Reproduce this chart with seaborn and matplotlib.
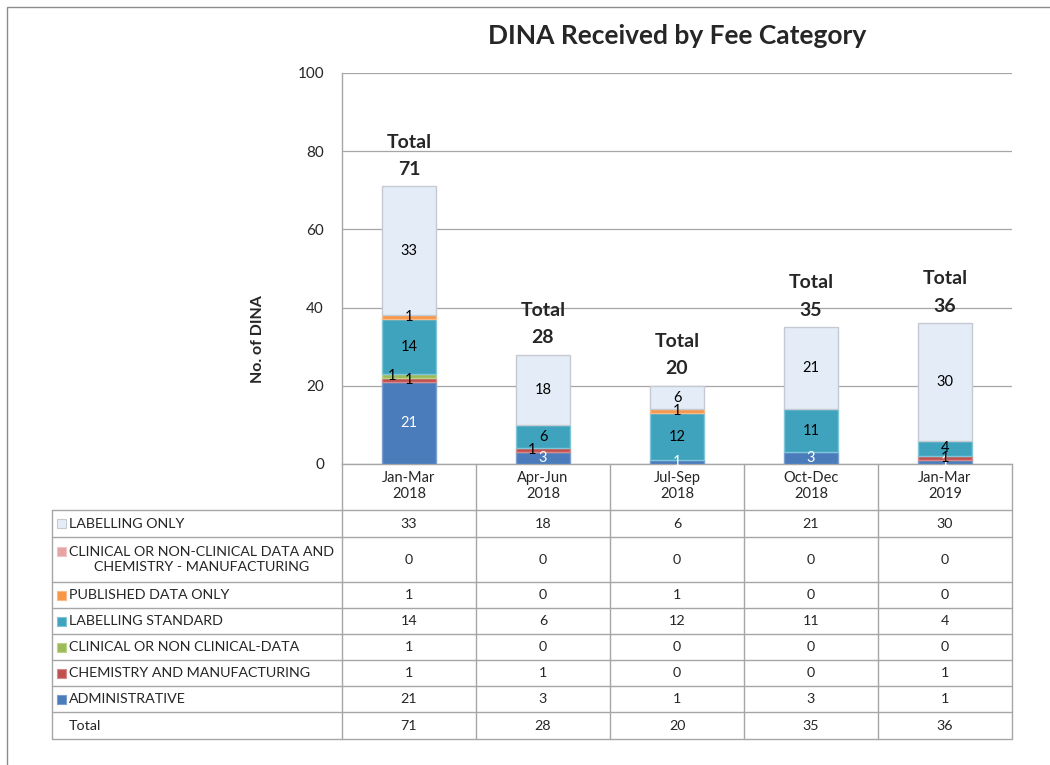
import numpy as np
import pandas as pd
import matplotlib
matplotlib.use("Agg")
import matplotlib.pyplot as plt
import seaborn as sns
from matplotlib.patches import Rectangle
from matplotlib.lines import Line2D

# ---------------- data ----------------
periods = ["Jan-Mar\n2018", "Apr-Jun\n2018", "Jul-Sep\n2018", "Oct-Dec\n2018", "Jan-Mar\n2019"]
administrative = [21, 3, 1, 3, 1]
chemistry_manufacturing = [1, 1, 0, 0, 1]
clinical_data = [1, 0, 0, 0, 0]
labelling_standard = [14, 6, 12, 11, 4]
published_data = [1, 0, 1, 0, 0]
clinical_and_chemistry = [0, 0, 0, 0, 0]
labelling_only = [33, 18, 6, 21, 30]
totals = [71, 28, 20, 35, 36]

series_names = [
    "ADMINISTRATIVE",
    "CHEMISTRY AND MANUFACTURING",
    "CLINICAL OR NON CLINICAL-DATA",
    "LABELLING STANDARD",
    "PUBLISHED DATA ONLY",
    "CLINICAL OR NON-CLINICAL DATA AND\nCHEMISTRY - MANUFACTURING",
    "LABELLING ONLY",
]
series_values = [administrative, chemistry_manufacturing, clinical_data,
                 labelling_standard, published_data, clinical_and_chemistry,
                 labelling_only]
series_colors = ["#4A7BBA", "#C0504D", "#9BBB59", "#3FA3BE", "#F79646", "#E6A3A2", "#E4ECF7"]
series_edges = ["#7A9FD0", "#D98A88", "#BCD48A", "#7FC6DA", "#F9BA8A", "#F0C6C5", "#C4C9D2"]
label_colors = ["white", "black", "black", "black", "black", "black", "black"]

# ---------------- style ----------------
sns.set_style("white")
plt.rcParams["font.family"] = ["Lato", "DejaVu Sans"]

W, H = 1050, 765
fig = plt.figure(figsize=(W / 100, H / 100), dpi=100)


def fx(px):
    return px / W


def fy(py):
    return 1 - py / H


ax_left, ax_right, ax_top, ax_bottom = 342, 1012, 73, 464
ax = fig.add_axes([fx(ax_left), fy(ax_bottom), (ax_right - ax_left) / W, (ax_bottom - ax_top) / H])

bottom = np.zeros(len(periods))
for name, vals, col, edge in zip(series_names, series_values, series_colors, series_edges):
    df = pd.DataFrame({"period": periods, "value": vals})
    sns.barplot(data=df, x="period", y="value", order=periods, color=col,
                saturation=1, width=0.4, bottom=bottom.copy(), edgecolor=edge,
                linewidth=1.0, errorbar=None, ax=ax, zorder=3)
    bottom += np.array(vals)

for p in ax.patches:
    if p.get_height() == 0:
        p.set_visible(False)

# segment labels
bottom = np.zeros(len(periods))
for k, (vals, lc) in enumerate(zip(series_values, label_colors)):
    for i, v in enumerate(vals):
        if v > 0:
            dx = -0.13 if k == 2 else (-0.08 if (k == 1 and i == 1) else 0)
            ax.text(i + dx, bottom[i] + v / 2, str(v), ha="center", va="center",
                    fontsize=10.5, color=lc, zorder=5)
    bottom += np.array(vals)

# total labels
for i, t in enumerate(totals):
    ax.annotate(f"Total\n{t}", xy=(i, t), xytext=(0, 6), textcoords="offset points",
                ha="center", va="bottom", fontsize=14, fontweight="bold",
                linespacing=1.75, zorder=5)

ax.set_ylim(0, 100)
ax.set_xlim(-0.5, len(periods) - 0.5)
ax.set_yticks(range(0, 101, 20))
ax.yaxis.grid(True, color="#A6A6A6", linewidth=0.9, zorder=0)
ax.set_axisbelow(True)
ax.set_xlabel("")
ax.set_ylabel("")
ax.tick_params(axis="y", length=0, pad=13, labelsize=11)
ax.tick_params(axis="x", length=0, pad=5, labelsize=10.5)
for s in ["top", "right"]:
    ax.spines[s].set_visible(False)
for s in ["left", "bottom"]:
    ax.spines[s].set_color("#A6A6A6")
    ax.spines[s].set_linewidth(1.0)

# title and y label
fig.text(fx(677), fy(36), "DINA Received by Fee Category", ha="center", va="center",
         fontsize=19, fontweight="bold")
fig.text(fx(258), fy(339), "No. of DINA", rotation=90, ha="center", va="center",
         fontsize=11.5, fontweight="bold")

# ---------------- data table ----------------
line_col = "#A6A6A6"
tab_left = 52
col_edges = [ax_left + i * (ax_right - ax_left) / len(periods) for i in range(len(periods) + 1)]
row_edges = [510, 537, 582, 608, 634, 660, 686, 712, 739]


def hline(y, x0, x1):
    fig.add_artist(Line2D([fx(x0), fx(x1)], [fy(y), fy(y)], color=line_col, lw=1.0))


def vline(x, y0, y1):
    fig.add_artist(Line2D([fx(x), fx(x)], [fy(y0), fy(y1)], color=line_col, lw=1.0))


for y in row_edges:
    hline(y, tab_left, ax_right)
for x in col_edges:
    vline(x, ax_bottom, row_edges[-1])
vline(tab_left, row_edges[0], row_edges[-1])

table_order = [6, 5, 4, 3, 2, 1, 0]
for r, k in enumerate(table_order):
    yc = (row_edges[r] + row_edges[r + 1]) / 2
    sw = 9
    sy = yc if k != 5 else row_edges[r] + 14
    fig.add_artist(Rectangle((fx(57), fy(sy + sw / 2)), sw / W, sw / H,
                             facecolor=series_colors[k], edgecolor=series_edges[k], lw=0.8))
    fig.text(fx(69), fy(yc), series_names[k], ha="left", va="center",
             multialignment="center", fontsize=10.3, linespacing=1.25)
    for i, v in enumerate(series_values[k]):
        fig.text(fx((col_edges[i] + col_edges[i + 1]) / 2), fy(yc), str(v),
                 ha="center", va="center", fontsize=10.3)

yc = (row_edges[-2] + row_edges[-1]) / 2
fig.text(fx(69), fy(yc), "Total", ha="left", va="center", fontsize=10.3)
for i, t in enumerate(totals):
    fig.text(fx((col_edges[i] + col_edges[i + 1]) / 2), fy(yc), str(t),
             ha="center", va="center", fontsize=10.3)

# outer chart border
fig.add_artist(Rectangle((fx(7), -0.1), 1.2, 1.1 - 7 / H, transform=fig.transFigure,
                         fill=False, edgecolor="#8C8C8C", lw=1.0))

fig.savefig("out.png", dpi=100)
